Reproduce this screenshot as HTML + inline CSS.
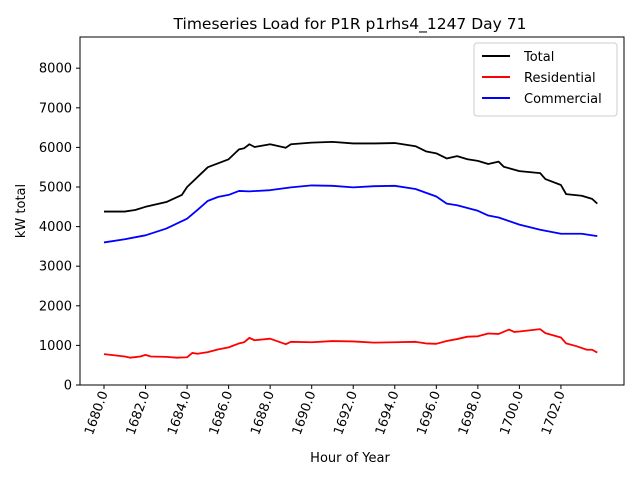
<!DOCTYPE html>
<html><head><meta charset="utf-8"><style>
body{margin:0;background:#fff;font-family:"Liberation Sans","DejaVu Sans",sans-serif}
svg text{font-family:"DejaVu Sans","Liberation Sans",sans-serif}
</style></head><body>
<svg id="c" width="640" height="480" xmlns="http://www.w3.org/2000/svg">
<rect width="640" height="480" fill="#fff"/>
<text x="350" y="29" font-size="15.5" text-anchor="middle">Timeseries Load for P1R p1rhs4_1247  Day 71</text>
<g id="plot"></g>
<rect x="80" y="37" width="544" height="348" fill="none" stroke="#000" stroke-width="1"/>
<text x="350" y="462" font-size="13" text-anchor="middle">Hour of Year</text>
<text transform="translate(25,211) rotate(-90)" font-size="13" text-anchor="middle">kW total</text>
<g>
<rect x="474" y="43" width="143" height="73" fill="#fff" stroke="#ccc" rx="3"/>
<line x1="482" y1="56" x2="510" y2="56" stroke="#000" stroke-width="2"/>
<text x="524" y="61" font-size="13">Total</text>
<line x1="482" y1="77" x2="510" y2="77" stroke="#f00" stroke-width="2"/>
<text x="524" y="82" font-size="13">Residential</text>
<line x1="482" y1="98" x2="510" y2="98" stroke="#00f" stroke-width="2"/>
<text x="524" y="103" font-size="13">Commercial</text>
</g>
</svg>
<script>
const xTicks=[1680,1682,1684,1686,1688,1690,1692,1694,1696,1698,1700,1702];
const yTicks=[0,1000,2000,3000,4000,5000,6000,7000,8000];
const totalHours=[1680,1681,1681.5,1682,1683,1683.75,1684,1685,1686,1686.5,1686.75,1687,1687.25,1688,1688.75,1689,1690,1691,1692,1693,1694,1695,1695.5,1696,1696.5,1697,1697.5,1698,1698.5,1699,1699.25,1700,1701,1701.25,1702,1702.25,1703,1703.5,1703.75];
const totalValues=[4380,4380,4420,4500,4620,4800,5000,5500,5700,5950,5980,6080,6010,6080,5990,6080,6120,6140,6100,6100,6110,6030,5900,5850,5720,5780,5700,5660,5580,5640,5510,5400,5350,5200,5050,4820,4780,4700,4580];
const resHours=[1680,1681,1681.25,1681.75,1682,1682.25,1683,1683.5,1684,1684.25,1684.5,1685,1685.5,1686,1686.5,1686.75,1687,1687.25,1688,1688.75,1689,1690,1691,1692,1693,1694,1695,1695.5,1696,1696.5,1697,1697.5,1698,1698.5,1699,1699.5,1699.75,1700,1701,1701.25,1702,1702.25,1702.75,1703.25,1703.5,1703.75];
const resValues=[780,720,690,720,760,720,710,690,700,810,790,830,900,950,1050,1080,1190,1130,1170,1030,1090,1080,1110,1100,1070,1080,1090,1050,1040,1110,1160,1220,1230,1300,1290,1400,1340,1350,1410,1310,1200,1050,980,890,890,820];
const comHours=[1680,1681,1682,1683,1684,1684.5,1685,1685.5,1686,1686.5,1687,1688,1689,1690,1691,1692,1693,1694,1695,1696,1696.5,1697,1698,1698.5,1699,1700,1701,1702,1703,1703.75];
const comValues=[3600,3680,3780,3950,4200,4420,4650,4750,4800,4900,4890,4920,4990,5040,5030,4990,5020,5030,4950,4760,4580,4540,4400,4280,4230,4050,3920,3820,3820,3760];
const NS="http://www.w3.org/2000/svg";
const sx=v=>104+(v-1680)*20.77;
const sy=v=>385-v*0.0396;
const g=document.getElementById('plot');
function mk(t,a){const e=document.createElementNS(NS,t);for(const k in a)e.setAttribute(k,a[k]);g.appendChild(e);return e;}
yTicks.forEach(v=>{
 const l=mk('line',{x1:76,x2:80,y1:sy(v),y2:sy(v),stroke:'#000'});
 
 
 const t=mk('text',{x:72,y:sy(v)+4.5,'font-size':13,'text-anchor':'end'});
 t.textContent=v;
 
 
});
xTicks.forEach(v=>{
 const x=sx(v);
 const l=mk('line',{x1:x,x2:x,y1:385,y2:389,stroke:'#000'});
 
 
 const t=mk('text',{transform:`translate(${x+4},393) rotate(-70)`,'font-size':13,'text-anchor':'end'});
 t.textContent=v.toFixed(1);
 
 
});
function line(h,v,col,name){
 const p=mk('polyline',{points:h.map((x,i)=>sx(x)+','+sy(v[i])).join(' '),fill:'none',stroke:col,'stroke-width':1.8,'stroke-linejoin':'round'});
 
 
}
line(totalHours,totalValues,'#000','total-line');
line(resHours,resValues,'#f00','residential-line');
line(comHours,comValues,'#00f','commercial-line');
</script>
</body></html>
